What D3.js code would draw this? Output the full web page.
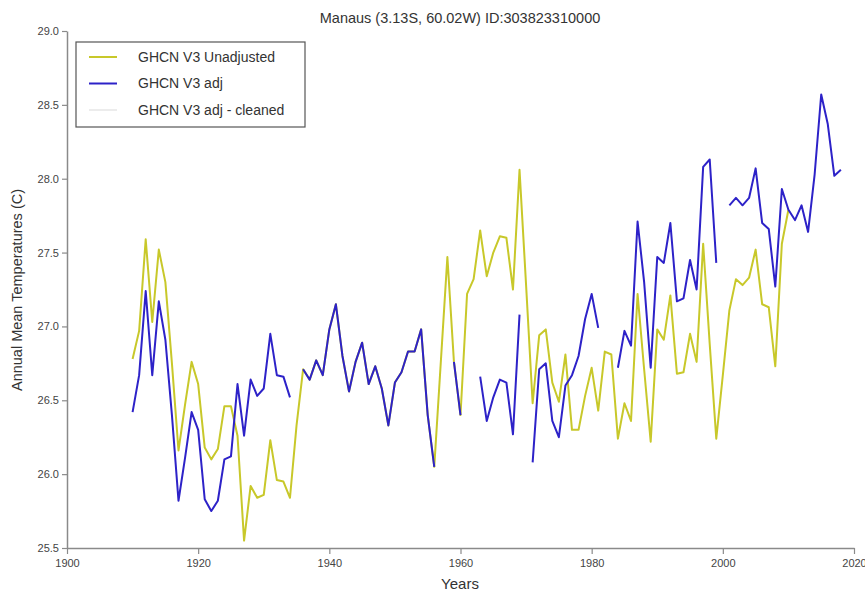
<!DOCTYPE html>
<html>
<head>
<meta charset="utf-8">
<script src="https://cdn.jsdelivr.net/npm/d3@7"></script>
<style>
  html, body { margin: 0; padding: 0; background: #fff; }
  svg { display: block; font-family: "Liberation Sans", Arial, sans-serif; }
</style>
</head>
<body>
<svg id="chart" width="865" height="594"></svg>
<script>
// Manaus annual mean temperatures, GHCN V3 (°C); null = missing year
const years = d3.range(1910, 2019);

const unadjusted = [
  26.78, 26.97, 27.59, 27.03, 27.52, 27.30, 26.75, 26.16, 26.47, 26.76, // 1910-1919
  26.61, 26.18, 26.10, 26.17, 26.46, 26.46, 26.26, 25.55, 25.92, 25.84, // 1920-1929
  25.86, 26.23, 25.96, 25.95, 25.84, 26.33, 26.71, 26.64, 26.77, 26.67, // 1930-1939
  26.98, 27.15, 26.80, 26.56, 26.76, 26.89, 26.61, 26.73, 26.58, 26.33, // 1940-1949
  26.62, 26.69, 26.83, 26.83, 26.98, 26.40, 26.05, 26.76, 27.47, 26.76, // 1950-1959
  26.40, 27.22, 27.32, 27.65, 27.34, 27.50, 27.61, 27.60, 27.25, 28.06, // 1960-1969
  27.28, 26.48, 26.94, 26.98, 26.62, 26.49, 26.81, 26.30, 26.30, 26.53, // 1970-1979
  26.72, 26.43, 26.83, 26.81, 26.24, 26.48, 26.36, 27.22, 26.71, 26.22, // 1980-1989
  26.98, 26.91, 27.21, 26.68, 26.69, 26.95, 26.76, 27.56, 26.88, 26.24, // 1990-1999
  26.67, 27.11, 27.32, 27.28, 27.33, 27.52, 27.15, 27.13, 26.73, 27.56, // 2000-2009
  27.79, null, null, null, null, null, null, null, null                 // 2010-2018
];

const adjusted = [
  26.42, 26.67, 27.24, 26.67, 27.17, 26.91, 26.40, 25.82, 26.11, 26.42, // 1910-1919
  26.30, 25.83, 25.75, 25.82, 26.10, 26.12, 26.61, 26.26, 26.64, 26.53, // 1920-1929
  26.58, 26.95, 26.67, 26.66, 26.52, null,  26.71, 26.64, 26.77, 26.67, // 1930-1939
  26.98, 27.15, 26.80, 26.56, 26.76, 26.89, 26.61, 26.73, 26.58, 26.33, // 1940-1949
  26.62, 26.69, 26.83, 26.83, 26.98, 26.40, 26.05, null,  null,  26.76, // 1950-1959
  26.40, null,  null,  26.66, 26.36, 26.52, 26.64, 26.62, 26.27, 27.08, // 1960-1969
  null,  26.08, 26.71, 26.75, 26.36, 26.25, 26.60, 26.67, 26.80, 27.05, // 1970-1979
  27.22, 26.99, null,  null,  26.72, 26.97, 26.87, 27.71, 27.30, 26.72, // 1980-1989
  27.47, 27.43, 27.70, 27.17, 27.19, 27.45, 27.25, 28.08, 28.13, 27.43, // 1990-1999
  null,  27.82, 27.87, 27.82, 27.87, 28.07, 27.70, 27.66, 27.27, 27.93, // 2000-2009
  27.79, 27.72, 27.82, 27.64, 28.03, 28.57, 28.37, 28.02, 28.06         // 2010-2018
];

const seriesNames = ["GHCN V3 Unadjusted", "GHCN V3 adj", "GHCN V3 adj - cleaned"];
const seriesColors = ["#c8c82a", "#2d22c8", "#ececec"];
const xTicks = [1900, 1920, 1940, 1960, 1980, 2000, 2020];
const yTicks = [25.5, 26.0, 26.5, 27.0, 27.5, 28.0, 28.5, 29.0];

const titleText = "Manaus (3.13S, 60.02W) ID:303823310000";
const xLabel = "Years";
const yLabel = "Annual Mean Temperatures (C)";

const W = 865, H = 594;
const margin = { top: 31, right: 11, bottom: 46, left: 67 };
const svg = d3.select("#chart");

const x = d3.scaleLinear().domain([1900, 2020]).range([margin.left, W - margin.right]);
const y = d3.scaleLinear().domain([25.5, 29.0]).range([H - margin.bottom, margin.top]);

const line = d3.line()
  .defined(d => d.v != null)
  .x(d => x(d.year))
  .y(d => y(d.v));

const toPoints = arr => years.map((yr, i) => ({ year: yr, v: arr[i] }));

// lines: unadjusted beneath, adjusted on top
[[unadjusted, seriesColors[0]], [adjusted, seriesColors[1]]].forEach(([vals, col]) => {
  svg.append("path")
    .datum(toPoints(vals))
    .attr("fill", "none")
    .attr("stroke", col)
    .attr("stroke-width", 2)
    .attr("stroke-linejoin", "round")
    .attr("d", line);
});

// axes
const axisColor = "#8a8a8a";
const textColor = "#444";

const gx = svg.append("g")
  .attr("transform", `translate(0,${H - margin.bottom})`)
  .call(d3.axisBottom(x).tickValues(xTicks).tickFormat(d3.format("d")).tickSize(6).tickSizeOuter(0));
const gy = svg.append("g")
  .attr("transform", `translate(${margin.left},0)`)
  .call(d3.axisLeft(y).tickValues(yTicks).tickFormat(d3.format(".1f")).tickSize(5).tickSizeOuter(0));

[gx, gy].forEach(g => {
  g.select(".domain").attr("stroke", axisColor).attr("stroke-width", 1.5);
  g.selectAll(".tick line").attr("stroke", axisColor).attr("stroke-width", 1.2);
  g.selectAll(".tick text").attr("fill", textColor).attr("font-size", 11)
    .attr("font-family", "'Liberation Sans', Arial, sans-serif");
});
gx.selectAll(".tick text").attr("dy", "0.9em");

// titles
svg.append("text")
  .attr("x", 460).attr("y", 23)
  .attr("text-anchor", "middle")
  .attr("font-size", 14.5)
  .attr("fill", "#333")
  .text(titleText);

svg.append("text")
  .attr("x", 460).attr("y", 589)
  .attr("text-anchor", "middle")
  .attr("font-size", 15)
  .attr("fill", "#333")
  .text(xLabel);

svg.append("text")
  .attr("transform", "translate(22,290) rotate(-90)")
  .attr("text-anchor", "middle")
  .attr("font-size", 14.5)
  .attr("fill", "#333")
  .text(yLabel);

// legend
const lg = svg.append("g").attr("transform", "translate(76,42)");
lg.append("rect")
  .attr("width", 229).attr("height", 85)
  .attr("fill", "#fff")
  .attr("stroke", "#555")
  .attr("stroke-width", 1.2);
seriesNames.forEach((name, i) => {
  const cy = 15 + i * 26.5;
  lg.append("line")
    .attr("x1", 13).attr("x2", 41)
    .attr("y1", cy).attr("y2", cy)
    .attr("stroke", seriesColors[i])
    .attr("stroke-width", 2);
  lg.append("text")
    .attr("x", 62).attr("y", cy)
    .attr("dy", "0.35em")
    .attr("font-size", 14)
    .attr("fill", "#333")
    .text(name);
});
</script>
</body>
</html>
